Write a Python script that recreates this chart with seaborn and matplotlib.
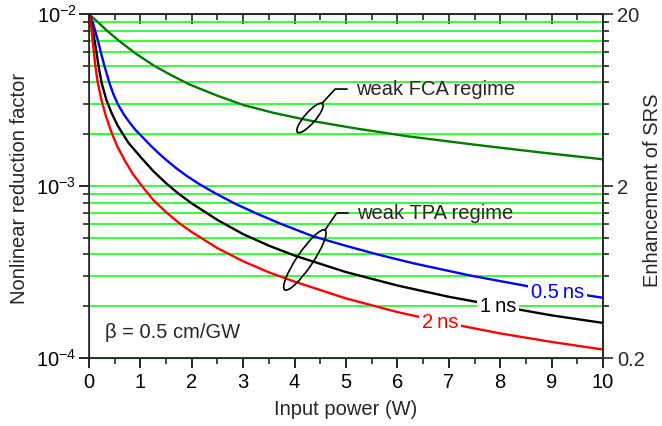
import pandas as pd
import matplotlib
matplotlib.use("Agg")
import matplotlib.pyplot as plt
import seaborn as sns
from matplotlib.patches import Ellipse
from matplotlib.ticker import FixedLocator, NullFormatter, MultipleLocator, FuncFormatter
from matplotlib.transforms import ScaledTranslation

# input power (W) and nonlinear reduction factor per curve
fca_p = [0, 0.17, 0.34, 0.59, 0.91, 1.27, 1.6, 1.96, 2.5, 3.0, 3.6, 4.3, 5.2, 6.18, 7.5, 8.77, 10]
fca_v = [1e-2, 8.99e-3, 8.05e-3, 6.97e-3, 5.89e-3, 5.0e-3, 4.41e-3, 3.89e-3, 3.35e-3, 2.96e-3,
         2.66e-3, 2.4e-3, 2.16e-3, 1.95e-3, 1.74e-3, 1.57e-3, 1.43e-3]

ns05_p = [0, 0.07, 0.12, 0.175, 0.23, 0.30, 0.395, 0.47, 0.56, 0.68, 0.8, 0.91, 1.03, 1.19, 1.35,
          1.5, 1.7, 1.9, 2.16, 2.48, 2.84, 3.26, 3.72, 4.36, 5.0, 5.6, 6.3, 7.41, 8.52, 10]
ns05_v = [1e-2, 9e-3, 8e-3, 7e-3, 6e-3, 5e-3, 4e-3, 3.45e-3, 3.0e-3, 2.6e-3, 2.32e-3, 2.11e-3, 1.94e-3,
          1.73e-3, 1.556e-3, 1.42e-3, 1.268e-3, 1.146e-3, 1.02e-3, 9.0e-4, 7.9e-4, 6.92e-4, 6.05e-4,
          5.1e-4, 4.49e-4, 4.01e-4, 3.56e-4, 3.02e-4, 2.62e-4, 2.24e-4]

ns1_p = [0, 0.045, 0.078, 0.11, 0.14, 0.19, 0.25, 0.34, 0.44, 0.56, 0.77, 1.0, 1.25, 1.5, 1.75,
         2.0, 2.5, 3.0, 3.5, 4, 5, 6, 7, 8, 9, 10]
ns1_v = [1e-2, 9e-3, 8e-3, 7e-3, 6.17e-3, 4.9e-3, 3.94e-3, 3.16e-3, 2.66e-3, 2.24e-3, 1.78e-3, 1.48e-3,
         1.222e-3, 1.038e-3, 8.99e-4, 7.92e-4, 6.35e-4, 5.25e-4, 4.5e-4, 3.94e-4, 3.16e-4, 2.64e-4,
         2.27e-4, 2.0e-4, 1.77e-4, 1.6e-4]

ns2_p = [0, 0.033, 0.052, 0.071, 0.097, 0.123, 0.17, 0.25, 0.33, 0.43, 0.55, 0.7, 0.85, 1.03, 1.25,
         1.5, 1.75, 2.0, 2.5, 3.0, 3.5, 4.0, 5, 6, 7, 8, 9, 10]
ns2_v = [1e-2, 9e-3, 8e-3, 7e-3, 6e-3, 5e-3, 4e-3, 3.1e-3, 2.55e-3, 2.08e-3, 1.7e-3, 1.4e-3, 1.18e-3,
         1.0e-3, 8.3e-4, 7.05e-4, 6.1e-4, 5.4e-4, 4.35e-4, 3.65e-4, 3.15e-4, 2.78e-4, 2.22e-4, 1.85e-4,
         1.59e-4, 1.39e-4, 1.24e-4, 1.12e-4]

colors = {"fca": "#007a00", "0.5ns": "#0000ff", "1ns": "#000000", "2ns": "#ff0000"}

df = pd.concat([
    pd.DataFrame({"P": fca_p, "val": fca_v, "series": "fca"}),
    pd.DataFrame({"P": ns05_p, "val": ns05_v, "series": "0.5ns"}),
    pd.DataFrame({"P": ns1_p, "val": ns1_v, "series": "1ns"}),
    pd.DataFrame({"P": ns2_p, "val": ns2_v, "series": "2ns"}),
])

sns.set_style("ticks")
plt.rcParams["font.family"] = ["Liberation Sans", "DejaVu Sans"]
plt.rcParams["mathtext.fontset"] = "custom"
plt.rcParams["mathtext.rm"] = "Liberation Sans"
plt.rcParams["mathtext.it"] = "Liberation Sans:italic"
FS = 14.5

fig = plt.figure(figsize=(6.62, 4.26), dpi=100)
ax = fig.add_axes([0.1344, 0.1596, 0.7765, 0.8074])

sns.lineplot(data=df, x="P", y="val", hue="series", palette=colors, estimator=None,
             sort=False, legend=False, lw=1.7, ax=ax, zorder=3)
ax.set_yscale("log")
ax.set_xlim(0, 10)
ax.set_ylim(1e-4, 1e-2)
ax.set_axisbelow(True)
ax.grid(which="both", axis="y", color="#00ff00", lw=1.1)
ax.grid(which="both", axis="x", visible=False)

ax.xaxis.set_major_locator(MultipleLocator(1))
ax.xaxis.set_minor_locator(MultipleLocator(0.5))
for s in ax.spines.values():
    s.set_linewidth(1.2)
ax.tick_params(which="major", direction="out", length=7, width=1.2, labelsize=FS, colors="black")
ax.tick_params(which="minor", direction="out", length=4, width=1.2)
ax.tick_params(axis="y", which="major", pad=2)

top = ax.secondary_xaxis("top")
top.xaxis.set_major_locator(MultipleLocator(1))
top.xaxis.set_minor_locator(MultipleLocator(0.5))
top.tick_params(which="major", direction="in", length=7, width=1.2, labeltop=False)
top.tick_params(which="minor", direction="in", length=4, width=1.2)
top.spines["top"].set_linewidth(1.2)

ax.set_xlabel("Input power (W)", fontsize=FS, labelpad=6)
ax.set_ylabel("")
fig.text(20 / 662, 1 - 188 / 426, "Nonlinear reduction factor", fontsize=FS,
         rotation=90, ha="center", va="center")

ax2 = ax.twinx()
ax2.set_yscale("log")
ax2.set_ylim(0.2, 20)
ax2.yaxis.set_major_locator(FixedLocator([0.2, 2, 20]))
ax2.yaxis.set_major_formatter(FuncFormatter(lambda v, p: "%g" % v))
ax2.yaxis.set_minor_locator(FixedLocator([0.2 * k * 10 ** n for n in (0, 1) for k in range(2, 10)]))
ax2.yaxis.set_minor_formatter(NullFormatter())
ax2.tick_params(which="major", direction="out", length=7, width=1.2, labelsize=FS, pad=3)
ax2.tick_params(which="minor", direction="out", length=4, width=1.2)
ax2.spines["right"].set_linewidth(1.2)
fig.text(652 / 662, 1 - 190 / 426, "Enhancement of SRS", fontsize=FS,
         rotation=90, ha="center", va="center")

# curve labels
box = dict(fc="white", ec="none", pad=2)
ax.text(9.12, 2.42e-4, "0.5\u2009ns", color="#0000ff", fontsize=FS, ha="center", va="center", bbox=box, zorder=4)
ax.text(7.96, 1.98e-4, "1\u2009ns", color="black", fontsize=FS, ha="center", va="center", bbox=box, zorder=4)
ax.text(6.83, 1.6e-4, "2\u2009ns", color="#ff0000", fontsize=FS, ha="center", va="center", bbox=box, zorder=4)

ax.text(0.031, 0.0756, "\u03b2 = 0.5 cm/GW", transform=ax.transAxes, fontsize=FS, va="center", ha="left")


# regime annotations with ellipses and leader lines
def regime(cx, cy, w, h, ang, path, label):
    tr = fig.dpi_scale_trans + ScaledTranslation(cx, cy, ax.transAxes)
    ax.add_patch(Ellipse((0, 0), w, h, angle=ang, transform=tr, fill=False, ec="black", lw=1.2, zorder=5))
    xs, ys = zip(*path)
    ax.plot(xs, ys, color="black", lw=1.2, transform=ax.transAxes, zorder=5)
    ax.text(path[-1][0] + 0.018, path[-1][1], label, transform=ax.transAxes, fontsize=FS,
            va="center", ha="left", zorder=5)


regime(0.430, 0.698, 0.38, 0.11, 49, [(0.453, 0.740), (0.479, 0.782), (0.502, 0.782)], "weak FCA regime")
regime(0.420, 0.285, 0.72, 0.16, 56, [(0.459, 0.372), (0.482, 0.4215), (0.504, 0.4215)], "weak TPA regime")

fig.savefig("out.png", dpi=100)
